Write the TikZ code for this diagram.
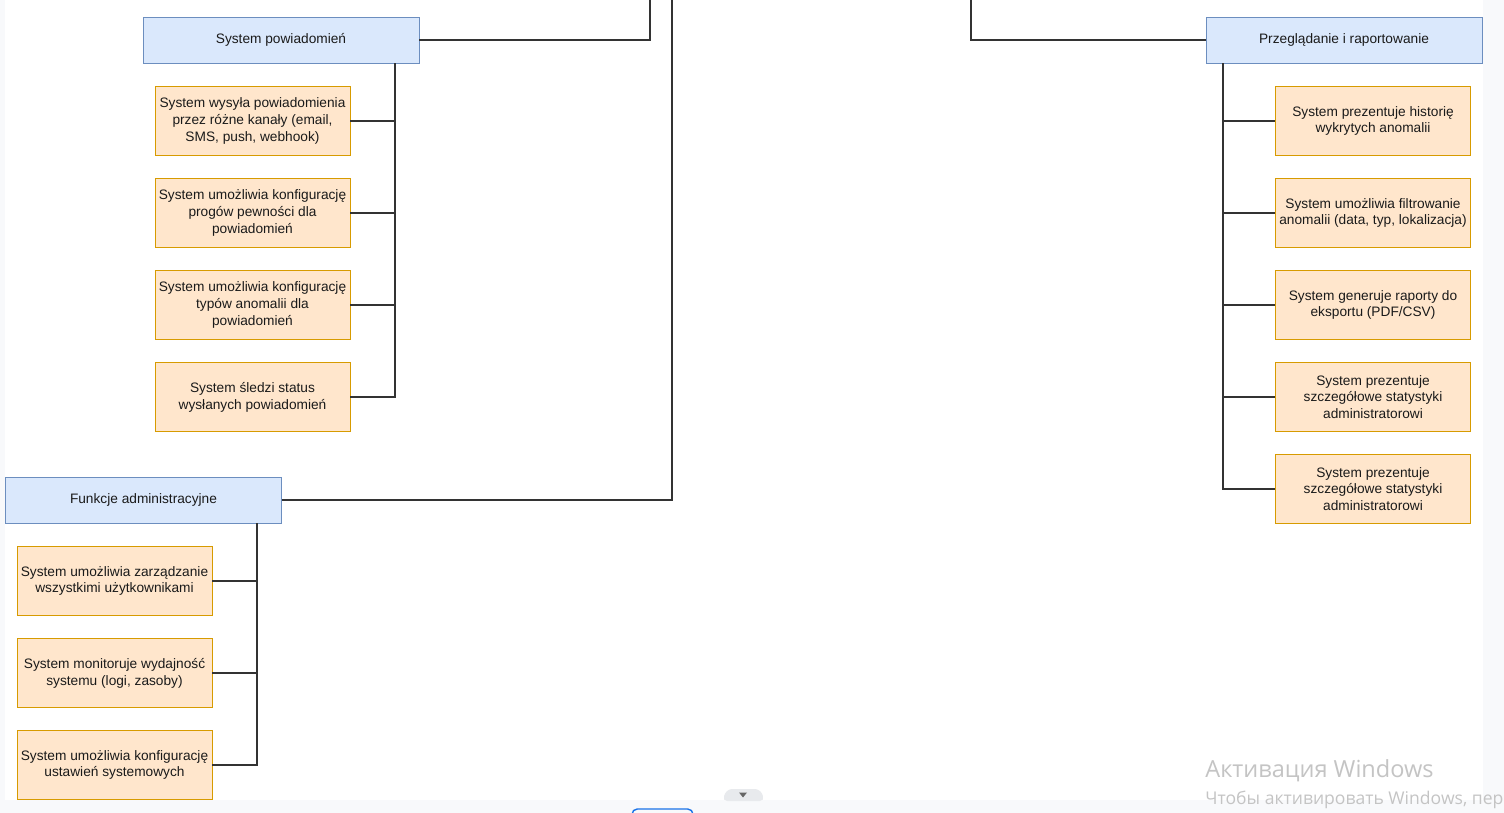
\documentclass[tikz,border=0pt]{standalone}
\usepackage{fontspec}
\setmainfont{Liberation Sans}
\newfontfamily\winfont{Open Sans}
\usepackage{tikz}
\usetikzlibrary{calc}
\usetikzlibrary{positioning}
\definecolor{headfill}{HTML}{DAE8FC}
\definecolor{headline}{HTML}{6C8EBF}
\definecolor{itemfill}{HTML}{FFE6CC}
\definecolor{itemline}{HTML}{D79B00}
\definecolor{textc}{HTML}{1A1A1A}
\definecolor{pagebg}{HTML}{F8F9FB}
\definecolor{wmark}{HTML}{C4C4C4}
\definecolor{tabgray}{HTML}{E8EAED}
\definecolor{tabblue}{HTML}{1A73E8}
\tikzset{head/.style={rectangle,draw=headline,fill=headfill,minimum width=5.52cm,minimum height=0.92cm,inner sep=0pt,text=textc,font=\fontsize{7.8}{9.6}\selectfont}}
\tikzset{item/.style={rectangle,draw=itemline,fill=itemfill,minimum width=3.9cm,minimum height=1.38cm,inner sep=0pt,align=center,text=textc,font=\fontsize{7.8}{9.6}\selectfont}}
\tikzset{wire/.style={draw=black!80,line width=0.7pt}}

\begin{document}
\begin{tikzpicture}[x=0.02cm,y=-0.02cm]
\useasboundingbox (0,0) rectangle (1504,813);
\begin{scope}
\clip (0,0) rectangle (1504,813);
\fill[pagebg] (0,0) rectangle (1504,813);
\fill[white] (5,0) rectangle (1483,800);

% group headers
\node[head] (powiad) at (281,40) {System powiadomień};
\node[head] (admin) at (143.5,500) {Funkcje administracyjne};
\node[head] (raport) at (1344,40) {Przeglądanie i raportowanie};

\coordinate (topA) at (650,0);
\coordinate (topB) at (672,0);
\coordinate (topC) at (971,0);
\draw[wire] (powiad.east) -| (topA);
\draw[wire] (admin.east) -| (topB);
\draw[wire] (raport.west) -| (topC);

\coordinate (pwT) at (395,0);
\coordinate (adT) at (257,0);
\coordinate (rpT) at (1223,0);

% powiadomienia
\foreach \i / \txt in {1/{System wysyła powiadomienia\\przez różne kanały (email,\\SMS, push, webhook)},
                       2/{System umożliwia konfigurację\\progów pewności dla\\powiadomień},
                       3/{System umożliwia konfigurację\\typów anomalii dla\\powiadomień},
                       4/{System śledzi status\\wysłanych powiadomień}} {
	\node[item] (pw\i) at (252.5,29+92*\i) {\txt};
	\draw[wire] (powiad.south -| pwT) |- (pw\i.east);
}

% administracja
\foreach \i / \txt in {1/{System umożliwia zarządzanie\\wszystkimi użytkownikami},
                       2/{System monitoruje wydajność\\systemu (logi, zasoby)},
                       3/{System umożliwia konfigurację\\ustawień systemowych}} {
	\node[item] (ad\i) at (114.5,489+92*\i) {\txt};
	\draw[wire] (admin.south -| adT) |- (ad\i.east);
}

% raportowanie
\foreach \i / \txt in {1/{System prezentuje historię\\wykrytych anomalii},
                       2/{System umożliwia filtrowanie\\anomalii (data, typ, lokalizacja)},
                       3/{System generuje raporty do\\eksportu (PDF/CSV)},
                       4/{System prezentuje\\szczegółowe statystyki\\administratorowi},
                       5/{System prezentuje\\szczegółowe statystyki\\administratorowi}} {
	\node[item] (rp\i) at (1373,29+92*\i) {\txt};
	\draw[wire] (raport.south -| rpT) |- (rp\i.west);
}

% screen leftovers
\fill[tabgray,rounded corners=3] (722,801) -- (727,789) -- (760,789) -- (765,801) -- cycle;
\fill[black!60] (739,792.5) -- (747,792.5) -- (743,797.5) -- cycle;
\draw[tabblue,line width=0.8pt,rounded corners=3] (632,820) rectangle (693,809);
\node[anchor=base west,inner sep=0pt,text=wmark,font=\winfont\fontsize{13.4}{14}\selectfont] (wm1) at (1205,777) {Активация Windows};
\node[anchor=base west,inner sep=0pt,text=wmark,font=\winfont\fontsize{10}{11}\selectfont] (wm2) at (1205,804) {Чтобы активировать Windows, пере};
\end{scope}
\end{tikzpicture}
\end{document}
